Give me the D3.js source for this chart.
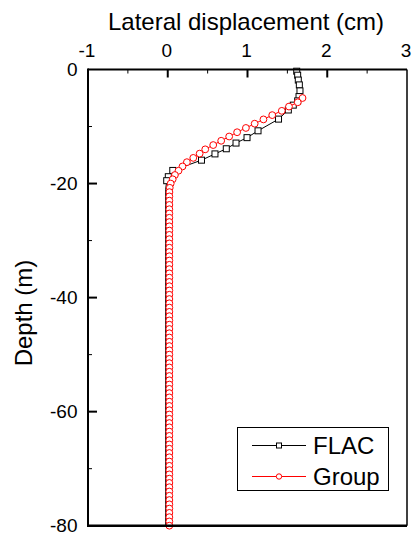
<!DOCTYPE html>
<html>
<head>
<meta charset="utf-8">
<script src="https://cdn.jsdelivr.net/npm/d3@7"></script>
<style>
  html, body { margin: 0; padding: 0; background: #fff; }
  svg { display: block; font-family: "Liberation Sans", Arial, sans-serif; }
</style>
</head>
<body>
<svg id="chart" width="413" height="535"></svg>
<script>
// ---- data ----
const xTicks = [-1, 0, 1, 2, 3];
const xMinorTicks = [-0.5, 0.5, 1.5, 2.5];
const yTicks = [0, -20, -40, -60, -80];
const yMinorTicks = [-10, -30, -50, -70];
const seriesNames = ["FLAC", "Group"];

// FLAC (marked nodes)
const flacDepth = [-0.3, -1.0, -1.85, -2.7, -3.75, -4.75, -5.5, -6.25, -7.1, -8.7, -10.75, -11.95, -12.9, -13.9, -14.8, -15.9, -17.7, -18.8, -19.5];
const flacDisp  = [1.617, 1.629, 1.637, 1.650, 1.658, 1.646, 1.629, 1.574, 1.512, 1.389, 1.132, 0.994, 0.856, 0.734, 0.592, 0.423, 0.063, 0.007, -0.013];
// FLAC continuation (line only, no markers)
const flacTailDepth = [-19.5, -21.0, -80];
const flacTailDisp  = [-0.013, -0.026, -0.026];

// Group
const groupDepth = [-5, -5.75, -6.5, -7.25, -8, -8.75, -9.5, -10.25, -11, -11.75, -12.5, -13.25, -14, -14.75, -15.5, -16.25, -17, -17.75, -18.5, -19.25, -20, -20.75, -21.5,
  -22.25, -23, -23.75, -24.5, -25.25, -26, -26.75, -27.5, -28.25, -29, -29.75, -30.5, -31.25, -32, -32.75, -33.5, -34.25, -35, -35.75, -36.5, -37.25, -38, -38.75, -39.5, -40.25,
  -41, -41.75, -42.5, -43.25, -44, -44.75, -45.5, -46.25, -47, -47.75, -48.5, -49.25, -50, -50.75, -51.5, -52.25, -53, -53.75, -54.5, -55.25, -56, -56.75, -57.5, -58.25,
  -59, -59.75, -60.5, -61.25, -62, -62.75, -63.5, -64.25, -65, -65.75, -66.5, -67.25, -68, -68.75, -69.5, -70.25, -71, -71.75, -72.5, -73.25, -74, -74.75, -75.5, -76.25,
  -77, -77.75, -78.5, -79.25, -80];
const groupDisp = [1.69, 1.63, 1.52, 1.43, 1.31, 1.20, 1.09, 0.98, 0.87, 0.77, 0.67, 0.57, 0.47, 0.40, 0.32, 0.24, 0.185, 0.135, 0.09, 0.062, 0.037, 0.025, 0.021,
  0.02, 0.02, 0.02, 0.02, 0.02, 0.02, 0.02, 0.02, 0.02, 0.02, 0.02, 0.02, 0.02, 0.02, 0.02, 0.02, 0.02, 0.02, 0.02, 0.02, 0.02, 0.02, 0.02, 0.02, 0.02, 0.02,
  0.02, 0.02, 0.02, 0.02, 0.02, 0.02, 0.02, 0.02, 0.02, 0.02, 0.02, 0.02, 0.02, 0.02, 0.02, 0.02, 0.02, 0.02, 0.02, 0.02, 0.02, 0.02, 0.02, 0.02,
  0.02, 0.02, 0.02, 0.02, 0.02, 0.02, 0.02, 0.02, 0.02, 0.02, 0.02, 0.02, 0.02, 0.02, 0.02, 0.02, 0.02, 0.02, 0.02, 0.02, 0.02, 0.02, 0.02, 0.02,
  0.02, 0.02, 0.02, 0.02, 0.02];

// ---- layout ----
const svg = d3.select("#chart");
const L = 88, R = 407, T = 69.5, B = 525.7;
const x = d3.scaleLinear().domain([-1, 3]).range([L, R]);
const y = d3.scaleLinear().domain([0, -80]).range([T, B]);

// ticks (inside)
const g = svg.append("g");
g.selectAll(".xt").data(xTicks.slice(1, -1)).enter().append("line")
  .attr("x1", d => x(d)).attr("x2", d => x(d)).attr("y1", T).attr("y2", T + 8)
  .attr("stroke", "#000").attr("stroke-width", 2);
g.selectAll(".xm").data(xMinorTicks).enter().append("line")
  .attr("x1", d => x(d)).attr("x2", d => x(d)).attr("y1", T).attr("y2", T + 4)
  .attr("stroke", "#000").attr("stroke-width", 1);
g.selectAll(".yt").data(yTicks.slice(1, -1)).enter().append("line")
  .attr("x1", L).attr("x2", L + 9).attr("y1", d => y(d)).attr("y2", d => y(d))
  .attr("stroke", "#000").attr("stroke-width", 2);
g.selectAll(".ym").data(yMinorTicks).enter().append("line")
  .attr("x1", L).attr("x2", L + 4).attr("y1", d => y(d)).attr("y2", d => y(d))
  .attr("stroke", "#000").attr("stroke-width", 1);

// tick labels
svg.selectAll(".xl").data(xTicks).enter().append("text")
  .attr("x", d => x(d) - 1).attr("y", 57).attr("text-anchor", "middle")
  .attr("font-size", 19).text(d => d);
svg.selectAll(".yl").data(yTicks).enter().append("text")
  .attr("x", 77.5).attr("y", d => y(d)).attr("dy", "0.35em").attr("text-anchor", "end")
  .attr("font-size", 19).text(d => d);

// axis titles
svg.append("text").attr("x", 246).attr("y", 29.5).attr("text-anchor", "middle")
  .attr("font-size", 24).text("Lateral displacement (cm)");
svg.append("text").attr("transform", "translate(32,313) rotate(-90)")
  .attr("text-anchor", "middle").attr("font-size", 24).text("Depth (m)");

// ---- series ----
const flacPts = flacDepth.map((d, i) => [flacDisp[i], d]);
const flacTail = flacTailDepth.map((d, i) => [flacTailDisp[i], d]);
const groupPts = groupDepth.map((d, i) => [groupDisp[i], d]);
const line = d3.line().x(p => x(p[0])).y(p => y(p[1]));

svg.append("path").attr("d", line(flacPts)).attr("fill", "none").attr("stroke", "#000").attr("stroke-width", 1);
svg.append("path").attr("d", line(flacTail)).attr("fill", "none").attr("stroke", "#000").attr("stroke-width", 1);
svg.selectAll(".fs").data(flacPts).enter().append("rect")
  .attr("x", p => x(p[0]) - 3).attr("y", p => y(p[1]) - 3).attr("width", 6).attr("height", 6)
  .attr("fill", "#fff").attr("stroke", "#000").attr("stroke-width", 1);

svg.append("path").attr("d", line(groupPts)).attr("fill", "none").attr("stroke", "#ff0000").attr("stroke-width", 1);
svg.selectAll(".gc").data(groupPts).enter().append("circle")
  .attr("cx", p => x(p[0])).attr("cy", p => y(p[1])).attr("r", 3.4)
  .attr("fill", "#fff").attr("stroke", "#ff0000").attr("stroke-width", 1);

// frame
svg.append("line").attr("x1", L).attr("x2", R).attr("y1", T).attr("y2", T).attr("stroke", "#000").attr("stroke-width", 2);
svg.append("line").attr("x1", R).attr("x2", R).attr("y1", T).attr("y2", B).attr("stroke", "#000").attr("stroke-width", 1.5);
svg.append("line").attr("x1", L).attr("x2", L).attr("y1", T - 1).attr("y2", B + 1).attr("stroke", "#000").attr("stroke-width", 2);
svg.append("line").attr("x1", L - 1).attr("x2", R).attr("y1", B).attr("y2", B).attr("stroke", "#000").attr("stroke-width", 2.5);

// ---- legend ----
const lg = svg.append("g");
lg.append("rect").attr("x", 237.5).attr("y", 427.5).attr("width", 151).attr("height", 63)
  .attr("fill", "#fff").attr("stroke", "#000").attr("stroke-width", 1);
const legendRows = [
  { name: seriesNames[0], color: "#000", shape: "square", yy: 445.5 },
  { name: seriesNames[1], color: "#ff0000", shape: "circle", yy: 476.5 }
];
legendRows.forEach(r => {
  lg.append("line").attr("x1", 252).attr("x2", 306).attr("y1", r.yy).attr("y2", r.yy)
    .attr("stroke", r.color).attr("stroke-width", 1);
  if (r.shape === "square") {
    lg.append("rect").attr("x", 279 - 2.5).attr("y", r.yy - 2.5).attr("width", 5).attr("height", 5)
      .attr("fill", "#fff").attr("stroke", r.color).attr("stroke-width", 1);
  } else {
    lg.append("circle").attr("cx", 279).attr("cy", r.yy).attr("r", 2.7)
      .attr("fill", "#fff").attr("stroke", r.color).attr("stroke-width", 1);
  }
  lg.append("text").attr("x", 313).attr("y", r.yy + 8.5).attr("font-size", 24).text(r.name);
});
</script>
</body>
</html>
